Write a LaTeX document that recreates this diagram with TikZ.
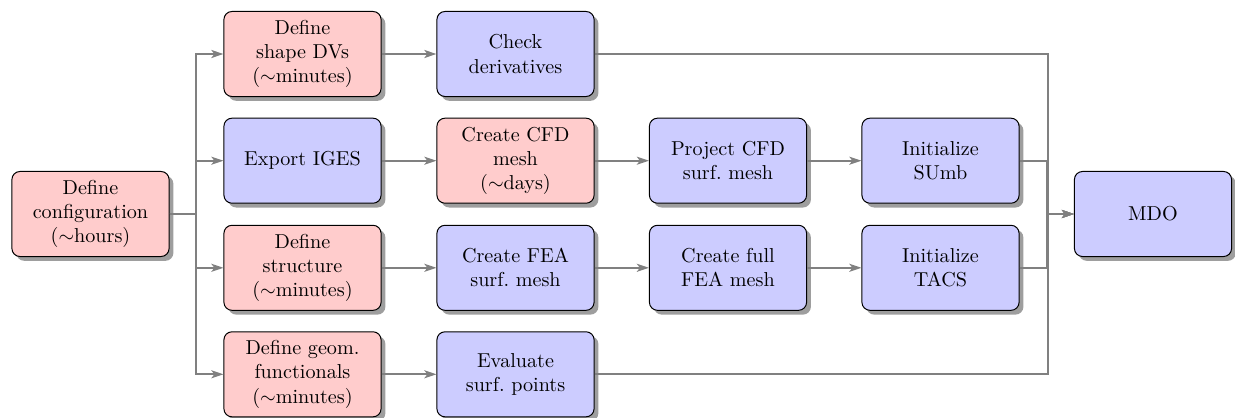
\documentclass[tikz,border=0pt]{standalone}
\usetikzlibrary{shadows,arrows.meta}
\begin{document}
\begin{tikzpicture}[x={(0.4963pt,0)},y={(0,-0.4963pt)},
  box/.style={draw=black,line width=0.5pt,rounded corners=4pt,minimum width=78pt,minimum height=42.2pt,
    align=center,inner sep=2pt,drop shadow={fill=black!38,opacity=1}},
  rbox/.style={box,fill=red!20},
  bbox/.style={box,fill=blue!20},
  conn/.style={draw=gray,line width=0.9pt,-{Stealth[length=6pt,width=4pt,inset=1.5pt]}},
  link/.style={draw=gray,line width=0.9pt}]
\useasboundingbox (0,0) rectangle (1235,418);
\node[rbox] (conf) at (90.5,214) {Define\\configuration\\($\sim$hours)};
\node[rbox] (dvs) at (302.5,54) {Define\\shape DVs\\($\sim$minutes)};
\node[bbox] (check) at (515.5,54) {Check\\derivatives};
\node[bbox] (iges) at (302.5,160.7) {Export IGES};
\node[rbox] (cfd) at (515.5,160.7) {Create CFD\\mesh\\($\sim$days)};
\node[bbox] (proj) at (728,160.7) {Project CFD\\surf.\ mesh};
\node[bbox] (sumb) at (940.5,160.7) {Initialize\\SUmb};
\node[rbox] (struct) at (302.5,267.8) {Define\\structure\\($\sim$minutes)};
\node[bbox] (feas) at (515.5,267.8) {Create FEA\\surf.\ mesh};
\node[bbox] (fea) at (728,267.8) {Create full\\FEA mesh};
\node[bbox] (tacs) at (940.5,267.8) {Initialize\\TACS};
\node[rbox] (geom) at (302.5,374.3) {Define geom.\\functionals\\($\sim$minutes)};
\node[bbox] (evals) at (515.5,374.3) {Evaluate\\surf.\ points};
\node[bbox] (mdo) at (1153,214) {MDO};
\coordinate (jL) at (196,214);
\coordinate (jR) at (1048,214);
\coordinate (jS) at (1046.5,214);
\draw[conn] (conf.east) -- (jL) |- (dvs.west);
\draw[conn] (conf.east) -- (jL) |- (iges.west);
\draw[conn] (conf.east) -- (jL) |- (struct.west);
\draw[conn] (conf.east) -- (jL) |- (geom.west);
\draw[conn] (dvs) -- (check);
\draw[conn] (iges) -- (cfd);
\draw[conn] (cfd) -- (proj);
\draw[conn] (proj) -- (sumb);
\draw[conn] (struct) -- (feas);
\draw[conn] (feas) -- (fea);
\draw[conn] (fea) -- (tacs);
\draw[conn] (geom) -- (evals);
\draw[conn] (check.east) -| (jR) -- (mdo.west);
\draw[conn] (evals.east) -| (jR) -- (mdo.west);
\draw[conn] (sumb.east) -| (jS) -- (mdo.west);
\draw[conn] (tacs.east) -| (jS) -- (mdo.west);
\end{tikzpicture}
\end{document}
